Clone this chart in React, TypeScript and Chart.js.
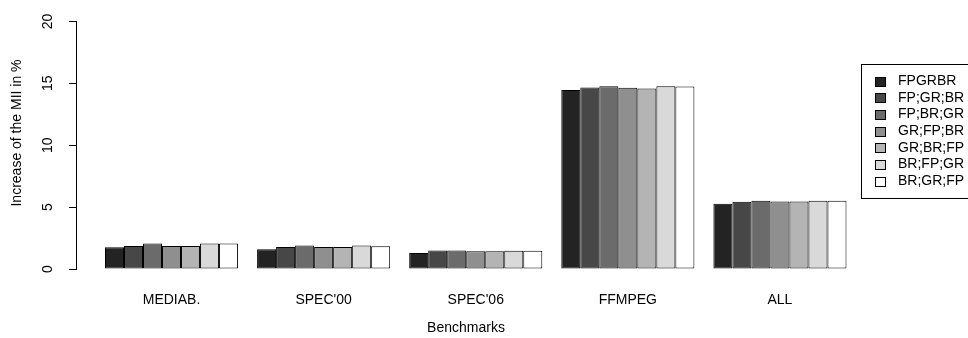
import React, { useEffect, useRef } from "react";
import { Chart, registerables } from "chart.js";

Chart.register(...registerables);

const categories = ["MEDIAB.", "SPEC'00", "SPEC'06", "FFMPEG", "ALL"];
const seriesLabels = ["FPGRBR", "FP;GR;BR", "FP;BR;GR", "GR;FP;BR", "GR;BR;FP", "BR;FP;GR", "BR;GR;FP"];
const fpgrbr = [1.75, 1.6, 1.3, 14.46, 5.28];
const fp_gr_br = [1.85, 1.78, 1.5, 14.67, 5.44];
const fp_br_gr = [2.05, 1.9, 1.5, 14.77, 5.52];
const gr_fp_br = [1.85, 1.78, 1.44, 14.64, 5.45];
const gr_br_fp = [1.85, 1.78, 1.44, 14.59, 5.45];
const br_fp_gr = [2.05, 1.9, 1.47, 14.77, 5.52];
const br_gr_fp = [2.05, 1.84, 1.47, 14.75, 5.52];
const seriesValues = [fpgrbr, fp_gr_br, fp_br_gr, gr_fp_br, gr_br_fp, br_fp_gr, br_gr_fp];
const seriesColors = ["#232323", "#474747", "#6b6b6b", "#8f8f8f", "#b4b4b4", "#d9d9d9", "#ffffff"];
const yTicks = [0, 5, 10, 15, 20];

const FONT = "'Liberation Sans', Arial, Helvetica, sans-serif";
const FS = 14;

export default function App() {
  const ref = useRef<HTMLCanvasElement | null>(null);

  useEffect(() => {
    if (!ref.current) return;

    const extras = {
      id: "extras",
      afterDraw(chart: any) {
        const ctx = chart.ctx;
        ctx.save();
        ctx.font = `${FS}px ${FONT}`;
        ctx.fillStyle = "#000";
        ctx.textAlign = "center";
        ctx.textBaseline = "middle";
        ctx.translate(17, 133);
        ctx.rotate(-Math.PI / 2);
        ctx.fillText("Increase of the MII in %", 0, 0);
        ctx.restore();

        ctx.save();
        ctx.strokeStyle = "#000";
        ctx.lineWidth = 1;
        ctx.strokeRect(861.5, 64.5, 130, 134);
        ctx.font = `${FS}px ${FONT}`;
        ctx.textAlign = "left";
        ctx.textBaseline = "middle";
        chart.data.datasets.forEach((ds: any, i: number) => {
          const cy = 81 + i * 16.7;
          const top = Math.round(cy - 4.5) + 0.5;
          ctx.fillStyle = ds.backgroundColor;
          ctx.fillRect(875.5, top, 10, 9);
          ctx.strokeRect(875.5, top, 10, 9);
          ctx.fillStyle = "#000";
          ctx.fillText(ds.label, 898, cy);
        });
        ctx.restore();
      },
    };

    const chart = new Chart(ref.current, {
      type: "bar",
      data: {
        datasets: seriesLabels.map((label, s) => ({
          label,
          data: seriesValues[s].map((v, i) => ({ x: i, y: v })),
          backgroundColor: seriesColors[s],
          borderColor: "#000",
          borderWidth: 1,
          borderSkipped: false,
          categoryPercentage: 0.875,
          barPercentage: 1,
        })),
      },
      options: {
        responsive: false,
        animation: false,
        layout: { padding: { left: 0, top: 19, right: 112, bottom: 0 } },
        plugins: { legend: { display: false }, tooltip: { enabled: false } },
        scales: {
          x: {
            type: "linear",
            min: -0.628,
            max: 4.5,
            offset: false,
            grid: { display: false, offset: false },
            border: { display: false },
            afterBuildTicks: (scale: any) => {
              scale.ticks = categories.map((_, i) => ({ value: i }));
            },
            afterFit: (scale: any) => {
              scale.height = 69;
            },
            ticks: {
              autoSkip: false,
              maxRotation: 0,
              minRotation: 0,
              padding: 15,
              color: "#000",
              font: { family: FONT, size: FS },
              callback: (v: any) => categories[v as number] ?? "",
            },
            title: {
              display: true,
              text: "Benchmarks",
              color: "#000",
              font: { family: FONT, size: FS },
              padding: { top: 0, bottom: 1 },
            },
          },
          y: {
            type: "linear",
            min: 0,
            max: 20,
            afterBuildTicks: (scale: any) => {
              scale.ticks = yTicks.map((v) => ({ value: v }));
            },
            afterFit: (scale: any) => {
              scale.width = 76;
            },
            grid: {
              drawOnChartArea: false,
              drawTicks: true,
              tickLength: 7,
              color: "#000",
            },
            border: { display: true, color: "#000", width: 1 },
            ticks: {
              minRotation: 90,
              maxRotation: 90,
              crossAlign: "center",
              padding: 13,
              color: "#000",
              font: { family: FONT, size: FS },
            },
          },
        },
      },
      plugins: [extras],
    } as any);

    return () => chart.destroy();
  }, []);

  return (
    <div style={{ position: "absolute", left: 0, top: 0, width: 968, height: 338, background: "#fff" }}>
      <canvas ref={ref} width={968} height={338} style={{ display: "block" }} />
    </div>
  );
}
